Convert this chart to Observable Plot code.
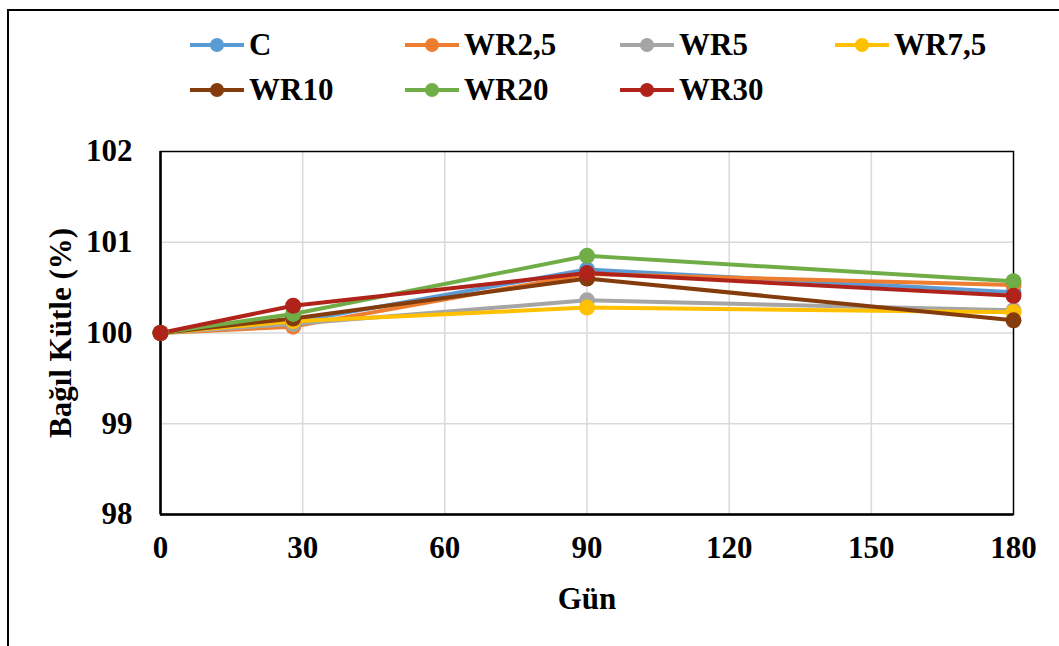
<!DOCTYPE html>
<html><head><meta charset="utf-8">
<script src="https://cdn.jsdelivr.net/npm/d3@7"></script>
<script src="https://cdn.jsdelivr.net/npm/@observablehq/plot@0.6"></script>
<style>
body{margin:0;background:#fff;}
#wrap{position:relative;width:1059px;height:646px;overflow:hidden;font-family:"Liberation Serif","Times New Roman",serif;font-weight:bold;background:#fff;}
#border{position:absolute;left:7px;top:9px;width:1100px;height:700px;border:2px solid #000;box-sizing:border-box;}
#legend{position:absolute;left:0;top:0;width:1059px;height:110px;}
.item{position:absolute;display:flex;align-items:center;height:40px;font-size:31px;color:#000;white-space:nowrap;}
.item svg{margin-right:5px;}
#chart{position:absolute;left:0;top:110px;}
</style></head><body>
<div id="wrap"><div id="border"></div><div id="legend"></div><div id="chart"></div></div>
<script>
const days = [0, 28, 90, 180];
const seriesNames = ["C", "WR2,5", "WR5", "WR7,5", "WR10", "WR20", "WR30"];
const seriesColors = ["#5B9BD5", "#ED7D31", "#A5A5A5", "#FFC000", "#843C0C", "#70AD47", "#B0231A"];
const valC    = [100, 100.12, 100.70, 100.45];
const valWR25 = [100, 100.07, 100.65, 100.53];
const valWR5  = [100, 100.10, 100.36, 100.25];
const valWR75 = [100, 100.13, 100.28, 100.23];
const valWR10 = [100, 100.16, 100.60, 100.14];
const valWR20 = [100, 100.21, 100.85, 100.57];
const valWR30 = [100, 100.30, 100.66, 100.41];
const xTicks = [0, 30, 60, 90, 120, 150, 180];
const yTicks = [98, 99, 100, 101, 102];
const xTitle = "Gün";
const yTitle = "Bağıl Kütle (%)";

const seriesValues = [valC, valWR25, valWR5, valWR75, valWR10, valWR20, valWR30];
const data = [];
seriesNames.forEach((s, i) => days.forEach((d, j) => data.push({series: s, day: d, value: seriesValues[i][j]})));

// legend
const legend = document.getElementById("legend");
seriesNames.forEach((s, i) => {
  const col = i % 4, row = Math.floor(i / 4);
  const div = document.createElement("div");
  div.className = "item";
  div.style.left = (190 + 215 * col) + "px";
  div.style.top = (25 + 45 * row) + "px";
  div.innerHTML = `<svg width="54" height="20"><line x1="0" x2="54" y1="10" y2="10" stroke="${seriesColors[i]}" stroke-width="4"/><circle cx="27" cy="10" r="7" fill="${seriesColors[i]}"/></svg><span>${s}</span>`;
  legend.appendChild(div);
});

const chart = Plot.plot({
  width: 1059,
  height: 536,
  marginLeft: 160,
  marginRight: 46,
  marginTop: 41,
  marginBottom: 132,
  style: {fontFamily: '"Liberation Serif","Times New Roman",serif', fontSize: "31px", fontWeight: "bold", color: "#000", background: "transparent"},
  x: {domain: [0, 180]},
  y: {domain: [98, 102]},
  color: {domain: seriesNames, range: seriesColors},
  marks: [
    Plot.gridX(xTicks.slice(1, -1), {stroke: "#d9d9d9", strokeOpacity: 1, strokeWidth: 1.5}),
    Plot.gridY(yTicks.slice(1, -1), {stroke: "#d9d9d9", strokeOpacity: 1, strokeWidth: 1.5}),
    Plot.frame({stroke: "#000", strokeWidth: 1.5}),
    Plot.axisX({ticks: xTicks, tickSize: 0, tickPadding: 21, label: xTitle, labelArrow: "none", labelAnchor: "center", labelOffset: 94, fontSize: 31}),
    Plot.axisY({ticks: yTicks, tickSize: 0, tickPadding: 28, label: yTitle, labelArrow: "none", labelAnchor: "center", labelOffset: 112, fontSize: 31, tickFormat: d => String(d)}),
    Plot.ruleX([0], {stroke: "#000", strokeWidth: 2.5}),
    Plot.ruleY([98], {stroke: "#000", strokeWidth: 2.5}),
    Plot.line(data, {x: "day", y: "value", z: "series", stroke: "series", strokeWidth: 4}),
    Plot.dot(data, {x: "day", y: "value", fill: "series", r: 8, stroke: "none"})
  ]
});
document.getElementById("chart").appendChild(chart);
</script>
</body></html>
